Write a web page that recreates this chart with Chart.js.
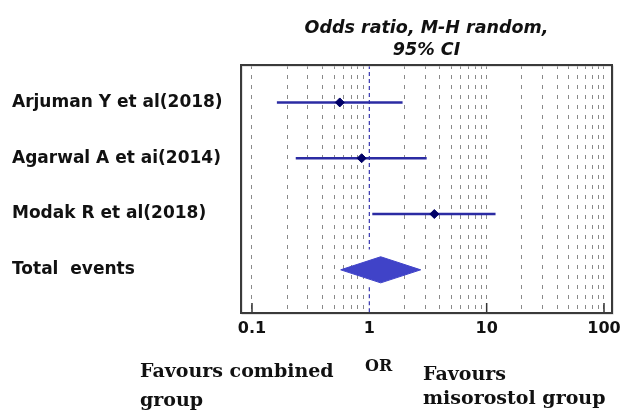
<!DOCTYPE html>
<html>
<head>
<meta charset="utf-8">
<script src="https://cdn.jsdelivr.net/npm/chart.js@4/dist/chart.umd.min.js"></script>
<style>
    html, body { margin: 0; padding: 0; background: #fff; }
    #wrap { width: 622px; height: 412px; }
</style>
</head>
<body>
<div id="wrap"><canvas id="forest"></canvas></div>
<script>
// Study rows (top to bottom)
const studies = ['Arjuman Y et al(2018)', 'Agarwal A et ai(2014)', 'Modak R et al(2018)'];
const totalLabel = 'Total  events';
const rowPos = [4, 3, 2, 1];

// Odds ratios with 95% CI
const oddsRatio = [0.56, 0.86, 3.58];
const ciLow = [0.163, 0.236, 1.06];
const ciHigh = [1.92, 3.08, 11.9];

// Pooled estimate: low, estimate, high
const pooled = [0.57, 1.25, 2.74];

const xTickLabels = [0.1, 1, 10, 100];

// grid lines at 1..9 of every decade
const xGrid = [];
[0.1, 1, 10].forEach(d => {
    for (let k = 1; k <= 9; k++) xGrid.push(+(d * k).toPrecision(2));
});
xGrid.push(100);

const diamondH = 0.234;
const lineBlue = '#2b2ba3';

const datasets = [];

// point estimates
datasets.push({
    data: oddsRatio.map((v, i) => ({ x: v, y: rowPos[i] })),
    showLine: false,
    pointStyle: 'rectRot',
    pointRadius: 4.5,
    pointBackgroundColor: '#000066',
    pointBorderColor: '#000066',
    order: 0
});

// confidence intervals
studies.forEach((s, i) => {
    datasets.push({
        data: [{ x: ciLow[i], y: rowPos[i] }, { x: ciHigh[i], y: rowPos[i] }],
        borderColor: lineBlue,
        borderWidth: 2.5,
        pointRadius: 0,
        fill: false,
        order: 1
    });
});

// pooled diamond (upper and lower halves, filled between)
const yTot = rowPos[3];
datasets.push({
    data: [{ x: pooled[0], y: yTot }, { x: pooled[1], y: yTot + diamondH }, { x: pooled[2], y: yTot }],
    borderColor: '#4043c8',
    borderWidth: 1,
    pointRadius: 0,
    tension: 0,
    fill: false,
    order: 2
});
datasets.push({
    data: [{ x: pooled[0], y: yTot }, { x: pooled[1], y: yTot - diamondH }, { x: pooled[2], y: yTot }],
    borderColor: '#4043c8',
    backgroundColor: '#4043c8',
    borderWidth: 1,
    pointRadius: 0,
    tension: 0,
    fill: '-1',
    order: 2
});

const extras = {
    id: 'extras',
    beforeDatasetsDraw(chart) {
        const { ctx, chartArea, scales } = chart;
        const x1 = scales.x.getPixelForValue(1);
        ctx.save();
        // line of no effect
        ctx.strokeStyle = '#3535b0';
        ctx.lineWidth = 1.2;
        ctx.setLineDash([4, 3]);
        ctx.beginPath();
        ctx.moveTo(x1, chartArea.top);
        ctx.lineTo(x1, scales.y.getPixelForValue(yTot + diamondH + 0.13));
        ctx.moveTo(x1, scales.y.getPixelForValue(yTot - diamondH - 0.08));
        ctx.lineTo(x1, chartArea.bottom);
        ctx.stroke();
        ctx.setLineDash([]);
        // major ticks
        ctx.strokeStyle = '#333';
        ctx.lineWidth = 1.5;
        xTickLabels.forEach(v => {
            if (v === 1) return;
            const px = scales.x.getPixelForValue(v);
            ctx.beginPath();
            ctx.moveTo(px, chartArea.bottom);
            ctx.lineTo(px, chartArea.bottom - 10);
            ctx.stroke();
        });
        ctx.restore();
    },
    afterDraw(chart) {
        const { ctx, chartArea } = chart;
        ctx.save();
        // frame
        ctx.strokeStyle = '#c8c8c8';
        ctx.lineWidth = 1;
        ctx.strokeRect(chartArea.left + 1, chartArea.top + 1, chartArea.right - chartArea.left, chartArea.bottom - chartArea.top);
        ctx.strokeStyle = '#3a3a3a';
        ctx.lineWidth = 2;
        ctx.strokeRect(chartArea.left, chartArea.top, chartArea.right - chartArea.left, chartArea.bottom - chartArea.top);

        // title
        const cx = (chartArea.left + chartArea.right) / 2;
        ctx.fillStyle = '#111';
        ctx.textAlign = 'center';
        ctx.textBaseline = 'alphabetic';
        ctx.font = 'italic bold 17.5px "DejaVu Sans"';
        ctx.fillText('Odds ratio, M-H random,', cx, 33);
        ctx.fillText('95% CI', cx, 55);

        // favours labels
        ctx.textAlign = 'left';
        ctx.font = 'bold 19px "DejaVu Serif"';
        ctx.fillText('Favours combined', 140, 377);
        ctx.fillText('group', 140, 406);
        ctx.fillText('Favours', 423, 380);
        ctx.fillText('misorostol group', 423, 404);
        ctx.font = 'bold 16px "DejaVu Serif"';
        ctx.fillText('OR', 365, 371);
        ctx.restore();
    }
};

new Chart(document.getElementById('forest'), {
    type: 'line',
    data: { datasets },
    plugins: [extras],
    options: {
        responsive: true,
        maintainAspectRatio: false,
        animation: false,
        layout: { padding: { top: 65, left: 12, right: 10, bottom: 0 } },
        plugins: {
            legend: { display: false },
            tooltip: { enabled: false },
            title: { display: false }
        },
        scales: {
            x: {
                type: 'logarithmic',
                min: 0.0806,
                max: 117,
                bounds: 'data',
                afterBuildTicks: scale => {
                    scale.ticks = xGrid.map(v => ({ value: v }));
                },
                afterFit: scale => {
                    scale.height = 99;
                    scale.paddingLeft = 0;
                    scale.paddingRight = 0;
                },
                ticks: {
                    autoSkip: false,
                    maxRotation: 0,
                    padding: 6,
                    color: '#111',
                    font: { family: 'DejaVu Sans', size: 16, weight: 'bold' },
                    callback: v => xTickLabels.includes(v) ? String(v) : ''
                },
                grid: {
                    drawTicks: false,
                    lineWidth: 1,
                    color: ctx => (ctx.tick && ctx.tick.value === 1) ? 'rgba(0,0,0,0)' : '#8a8a8a'
                },
                border: { display: false, dash: [4, 6] }
            },
            y: {
                type: 'linear',
                min: 0.226,
                max: 4.671,
                afterBuildTicks: scale => {
                    scale.ticks = rowPos.map(v => ({ value: v }));
                },
                afterFit: scale => { scale.width = 229; },
                ticks: {
                    crossAlign: 'far',
                    color: '#111',
                    font: { family: 'DejaVu Sans', size: 17, weight: 'bold' },
                    callback: v => {
                        const i = rowPos.indexOf(v);
                        return i < studies.length ? studies[i] : totalLabel;
                    }
                },
                grid: { display: false },
                border: { display: false }
            }
        }
    }
});
</script>
</body>
</html>
